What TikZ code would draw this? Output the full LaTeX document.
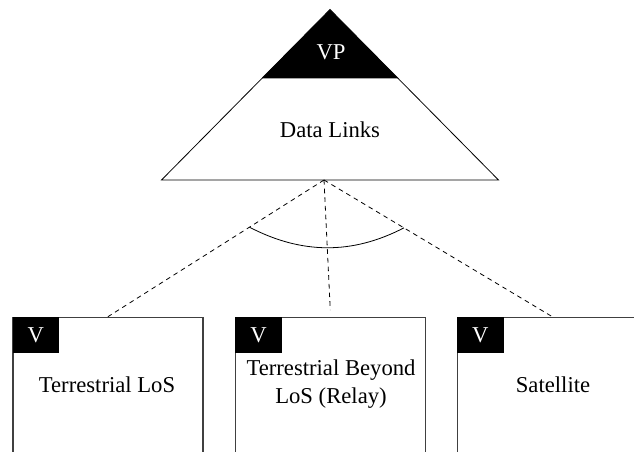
\documentclass[tikz,border=0pt]{standalone}
\usepackage{fontspec}
\setmainfont{Liberation Serif}
\usetikzlibrary{positioning, calc}

\begin{document}
\begin{tikzpicture}[x=0.75pt, y=-0.75pt,
  font=\fontsize{17}{21}\selectfont,
  every node/.style={inner sep=0pt},
  vbox/.style={draw=black!75, line width=0.9pt, minimum width=142.5pt, minimum height=120pt, anchor=north west},
  vtag/.style={fill=black, text=white, minimum width=35pt, minimum height=27pt, anchor=north west},
  link/.style={dash pattern=on 3.5pt off 3pt, line width=0.6pt}]
\useasboundingbox (0,0) rectangle (634,451);
\clip (0,0) rectangle (634,451);

% triangle
\coordinate (top) at (330,9.5);
\coordinate (bl) at (161.5,180);
\coordinate (br) at (498.5,180);
\coordinate (vpl) at ($(top)!0.4035!(bl)$);
\coordinate (vpr) at ($(top)!0.4035!(br)$);
\fill (top) -- (vpl) -- (vpr) -- cycle;
\draw[line width=0.6pt] (top) -- (bl) -- (br) -- cycle;
\node[text=white] (vp) at (331,52) {VP};
\node (dl) at (330,130) {Data Links};
\coordinate (hub) at (324,180);

% boxes
\node[vbox] (lbox) at (12.3,316.7) {};
\node[vbox] (mbox) at (235,316.7) {};
\node[vbox] (rbox) at (456.7,316.7) {};
\node[vtag] (ltag) at (lbox.north west) {V};
\node[vtag] (mtag) at (mbox.north west) {V};
\node[vtag] (rtag) at (rbox.north west) {V};

\node (lname) at (107,385) {Terrestrial LoS};
\node[align=center] (mname) at (331,384) {Terrestrial Beyond\\LoS (Relay)};
\node (rname) at (553,385) {Satellite};

% links
\draw[link] (hub) -- (lbox.north);
\draw[link, shorten >=5pt] (hub) -- (mbox.north);
\draw[link] (hub) -- (rbox.north);

\coordinate (al) at ($(hub)!0.345!(lbox.north)$);
\coordinate (ar) at ($(hub)!0.35!(rbox.north)$);
\draw[line width=0.6pt] (al) .. controls +(52,27) and +(-52,27) .. (ar);
\end{tikzpicture}
\end{document}
